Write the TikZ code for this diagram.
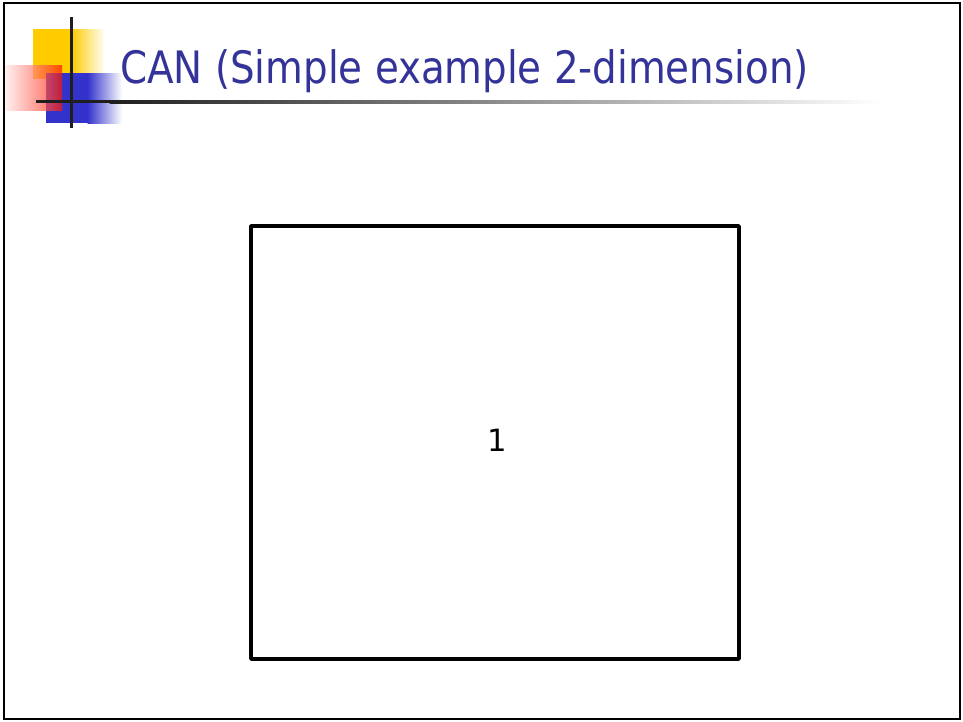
\documentclass[tikz,border=0pt]{standalone}
\usepackage{fontspec}
\setmainfont{DejaVu Sans}
\newfontfamily\titlefont{DejaVu Sans Condensed}
\begin{document}
\begin{tikzpicture}[x=0.75pt,y=-0.75pt]
\definecolor{titleblue}{RGB}{51,51,153}
\definecolor{decoyellow}{RGB}{255,204,0}
\definecolor{decoblue}{RGB}{51,51,204}
\definecolor{decored}{RGB}{255,20,0}
\tikzset{
  frame/.style={draw=black,line width=1.8pt},
  cell/.style={draw=black,line width=2.6pt,line join=round},
  titletext/.style={text=titleblue,font=\titlefont\fontsize{33.5}{38}\selectfont,inner sep=0pt,anchor=base west},
  celllabel/.style={font=\fontsize{23}{28}\selectfont,inner sep=0pt}
}
\useasboundingbox (0,0) rectangle (963,721);
\fill[white] (0,0) rectangle (963,721);
% decoration
\fill[decoyellow] (33,29) rectangle (72,79);
\shade[left color=decoyellow,right color=white] (71.5,29) rectangle (105,79);
\fill[decoblue] (46,73) rectangle (88,123);
\shade[left color=decoblue,right color=white] (87.5,73) rectangle (122,123);
\shade[left color=red!8,right color=decored,opacity=0.7] (5,65) rectangle (62,110);
\fill[black!88] (69.5,17) rectangle (72.5,128);
\fill[black!88] (36,100) rectangle (110,103);
\shade[left color=black!88,right color=white,middle color=black!45] (109.5,100) rectangle (880,103);
% title
\node[titletext] (title) at (120,83) {\scalebox{0.965}[1]{CAN (Simple example 2-dimension)}};
% outer frame
\draw[frame] (4,3) rectangle (960,719);
% zone
\node[cell,minimum width=488*0.75pt,minimum height=433*0.75pt,inner sep=0pt] (zone) at (495,442.5) {};
\node[celllabel] (lab) at (497,440) {1};
\end{tikzpicture}
\end{document}
